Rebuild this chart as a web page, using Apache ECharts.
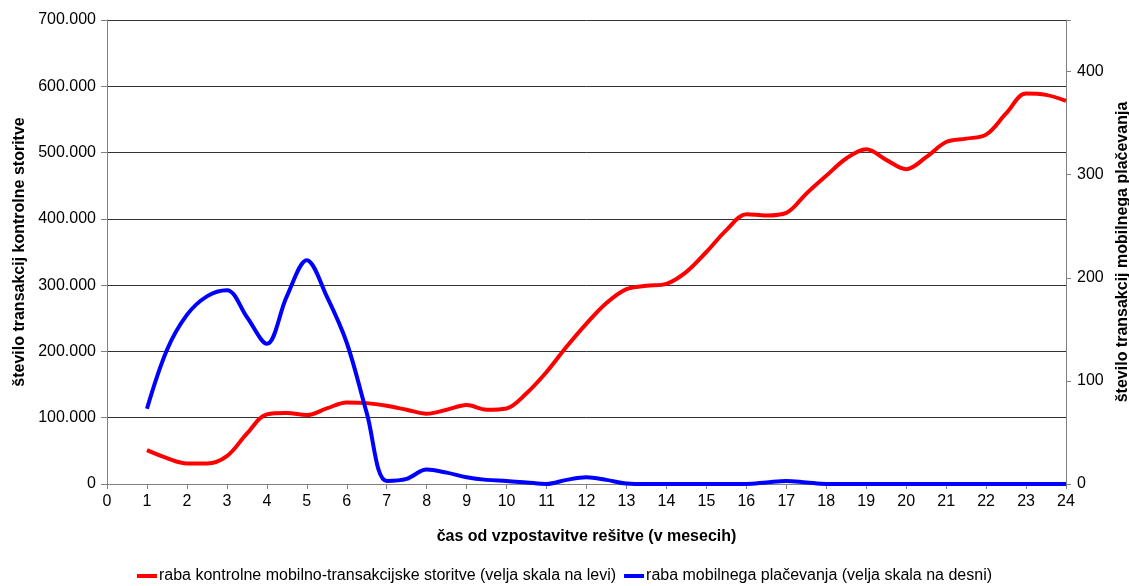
<!DOCTYPE html>
<html>
<head>
<meta charset="utf-8">
<script src="https://cdn.jsdelivr.net/npm/echarts@6/dist/echarts.min.js"></script>
<style>
  html, body { margin: 0; padding: 0; background: #fff; overflow: hidden; }
  #chart { width: 1129px; height: 586px; }
</style>
</head>
<body>
<div id="chart"></div>
<script>
// Months since launch, sampled every half month
const months = [1, 1.5, 2, 2.5, 3, 3.5, 4, 4.5, 5, 5.5, 6, 6.5, 7, 7.5, 8, 8.5, 9, 9.5, 10, 10.5,
  11, 11.5, 12, 12.5, 13, 13.5, 14, 14.5, 15, 15.5, 16, 16.5, 17, 17.5, 18, 18.5, 19, 19.5, 20, 20.5,
  21, 21.5, 22, 22.5, 23, 23.5, 24];

// Control service transactions (left scale)
const controlUse = [51000, 39000, 31000, 31000, 42000, 76000, 105000, 107000, 104000, 114000,
  123000, 122000, 118000, 112000, 106000, 112000, 119000, 112000, 114000, 137000,
  169000, 207000, 242000, 273000, 294000, 299000, 302000, 320000, 350000, 383000,
  407000, 405000, 409000, 438000, 465000, 491000, 505000, 489000, 475000, 493000,
  516000, 521000, 527000, 559000, 589000, 587000, 578000];

// Mobile payment transactions (right scale)
const paymentUse = [73, 130, 164, 182, 188, 162, 136, 182, 217, 182,
  137, 69, 3, 5, 14, 11, 6.5, 4, 3, 1.5,
  0, 4, 6.5, 4, 0.5, 0, 0, 0, 0, 0,
  0, 1.5, 3, 1.5, 0, 0, 0, 0, 0, 0,
  0, 0, 0, 0, 0, 0, 0];

const xTicks = { min: 0, max: 24, interval: 1 };
const leftTicks = { min: 0, max: 700000, interval: 100000 };
const rightTicks = { min: 0, max: 450, interval: 100 };

const seriesNames = [
  'raba kontrolne mobilno-transakcijske storitve (velja skala na levi)',
  'raba mobilnega plačevanja (velja skala na desni)'
];

const fmtThousands = v => String(v).replace(/\B(?=(\d{3})+(?!\d))/g, '.');

const font = 'Liberation Sans, Arial, sans-serif';
const axisGray = '#808080';

const chart = echarts.init(document.getElementById('chart'), null, { renderer: 'canvas' });
chart.setOption({
  backgroundColor: '#ffffff',
  animation: false,
  textStyle: { fontFamily: font, color: '#000' },
  grid: { left: 107, right: 63, top: 20, bottom: 102, containLabel: false, outerBoundsMode: 'none' },
  legend: {
    top: 563,
    left: 'center',
    icon: 'rect',
    itemWidth: 20,
    itemHeight: 4,
    itemGap: 8,
    textStyle: { fontFamily: font, fontSize: 16, color: '#000', padding: [0, 0, 0, -3] },
    data: seriesNames
  },
  xAxis: {
    type: 'value',
    min: xTicks.min, max: xTicks.max, interval: xTicks.interval,
    name: 'čas od vzpostavitve rešitve (v mesecih)',
    nameLocation: 'middle',
    nameGap: 45,
    nameTextStyle: { fontFamily: font, fontSize: 16, fontWeight: 'bold', color: '#000' },
    axisLine: { show: true, lineStyle: { color: axisGray, width: 1 } },
    axisTick: { show: true, length: 5, lineStyle: { color: axisGray } },
    axisLabel: { fontFamily: font, fontSize: 16, color: '#000', margin: 10 },
    splitLine: { show: false }
  },
  yAxis: [
    {
      type: 'value',
      position: 'left',
      min: leftTicks.min, max: leftTicks.max, interval: leftTicks.interval,
      name: 'število transakcij kontrolne storitve',
      nameLocation: 'middle',
      nameRotate: 90,
      nameGap: 78,
      nameTextStyle: { fontFamily: font, fontSize: 16, fontWeight: 'bold', color: '#000' },
      axisLine: { show: true, lineStyle: { color: axisGray, width: 1 } },
      axisTick: { show: true, length: 6, lineStyle: { color: axisGray } },
      axisLabel: { fontFamily: font, fontSize: 16, color: '#000', margin: 11, formatter: fmtThousands },
      splitLine: { show: true, lineStyle: { color: '#333', width: 1 } }
    },
    {
      type: 'value',
      position: 'right',
      min: rightTicks.min, max: rightTicks.max, interval: rightTicks.interval,
      name: 'število transakcij mobilnega plačevanja',
      nameLocation: 'middle',
      nameRotate: 90,
      nameGap: 46,
      nameTextStyle: { fontFamily: font, fontSize: 16, fontWeight: 'bold', color: '#000' },
      axisLine: { show: true, lineStyle: { color: axisGray, width: 1 } },
      axisTick: { show: true, length: 5, lineStyle: { color: axisGray } },
      axisLabel: {
        fontFamily: font, fontSize: 16, color: '#000', margin: 11,
        formatter: v => (v % rightTicks.interval === 0 ? String(v) : '')
      },
      splitLine: { show: false }
    }
  ],
  series: [
    {
      name: seriesNames[0],
      type: 'line',
      yAxisIndex: 0,
      smooth: 0.35,
      symbol: 'none',
      lineStyle: { color: '#ff0000', width: 4 },
      itemStyle: { color: '#ff0000' },
      z: 3,
      data: months.map((m, i) => [m, controlUse[i]])
    },
    {
      name: seriesNames[1],
      type: 'line',
      yAxisIndex: 1,
      smooth: 0.35,
      symbol: 'none',
      lineStyle: { color: '#0000ff', width: 4 },
      itemStyle: { color: '#0000ff' },
      z: 4,
      data: months.map((m, i) => [m, paymentUse[i]])
    }
  ]
});
</script>
</body>
</html>
